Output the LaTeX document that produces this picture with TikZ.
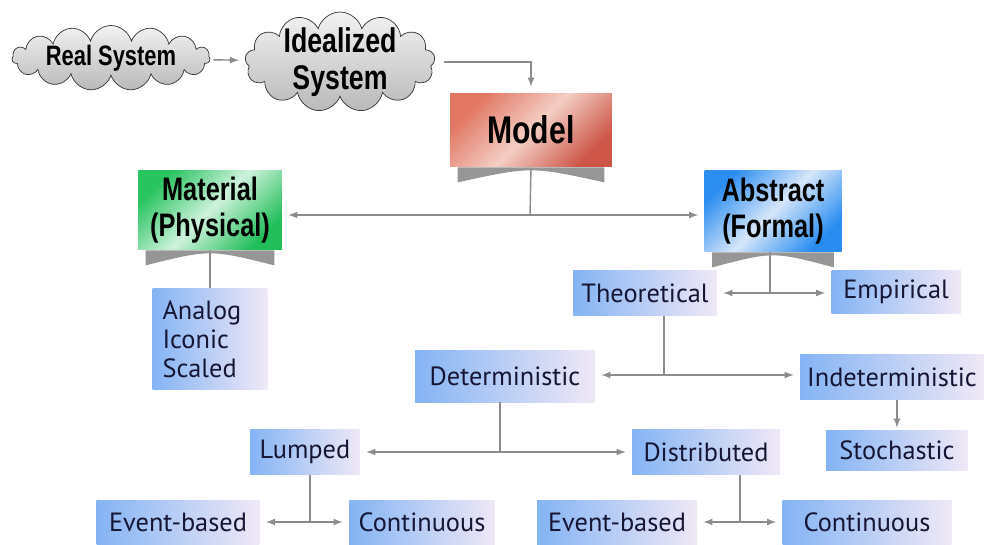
\documentclass[tikz,border=0pt]{standalone}
\usepackage{fontspec}
\setmainfont{PT Sans}
\newfontfamily\headfont{Liberation Sans}[FakeStretch=0.78]
\usetikzlibrary{shapes.symbols,arrows,positioning}

\definecolor{boxblue}{RGB}{132,180,244}
\definecolor{boxpale}{RGB}{240,232,246}
\definecolor{boxtext}{RGB}{22,22,52}
\definecolor{linegray}{RGB}{140,140,140}
\definecolor{shelfgray}{RGB}{150,150,150}

\tikzset{
  cloudy/.style={cloud, cloud puffs=15, aspect=2.6, draw=black!80, thin,
    top color=gray!10, bottom color=gray!55, font=\headfont\bfseries\fontsize{16}{17}\selectfont,
    align=center},
  head/.style={rectangle, align=center, inner sep=0pt,
    font=\headfont\bfseries\fontsize{18.5}{20.5}\selectfont},
  leaf/.style={rectangle, left color=boxblue, right color=boxpale, text=boxtext,
    inner sep=0pt, font=\fontsize{15}{16}\selectfont},
  line/.style={draw=linegray, thick},
  arr/.style={line, ->, shorten >=0.12cm}
}

\newcommand{\shelf}[1]{%
  \fill[shelfgray] ([xshift=0.16cm]#1.south west) -- ([xshift=-0.16cm]#1.south east)
    -- ([xshift=-0.16cm,yshift=-0.3cm]#1.south east)
    .. controls ([yshift=0.02cm]#1.south) .. ([xshift=0.16cm,yshift=-0.3cm]#1.south west) -- cycle;}

\begin{document}
\begin{tikzpicture}[x=0.02cm, y=-0.02cm, >=latex]
  \useasboundingbox (0,0) rectangle (986,544);

  \node[cloudy, minimum width=3.96cm, minimum height=1.3cm, inner xsep=-0.5cm, inner ysep=-0.3cm] (real) at (111,58) {Real System};
  \node[cloudy, minimum width=3.8cm, minimum height=2cm, cloud puffs=13, aspect=1.9,
    inner xsep=-0.6cm, inner ysep=-0.55cm,
    font=\headfont\bfseries\fontsize{19.5}{21}\selectfont] (ideal) at (340,62) {Idealized\\System};

  \node[head, minimum width=3.24cm, minimum height=1.48cm,
    top color={rgb,255:red,226;green,118;blue,98}, bottom color={rgb,255:red,206;green,86;blue,72},
    middle color={rgb,255:red,244;green,206;blue,196}, shading angle=45,
    font=\headfont\bfseries\fontsize{22}{24}\selectfont] (model) at (531,130) {Model};
  \node[head, minimum width=2.88cm, minimum height=1.6cm,
    top color={rgb,255:red,40;green,196;blue,96}, bottom color={rgb,255:red,34;green,190;blue,90},
    middle color={rgb,255:red,206;green,242;blue,220}, shading angle=45] (mat) at (210,210) {Material\\(Physical)};
  \node[head, minimum width=2.74cm, minimum height=1.64cm,
    top color={rgb,255:red,44;green,142;blue,240}, bottom color={rgb,255:red,40;green,140;blue,240},
    middle color={rgb,255:red,214;green,230;blue,250}, shading angle=45] (abs) at (773,211) {Abstract\\(Formal)};

  \node[leaf, text width=1.9cm, inner xsep=0.2cm, minimum height=2.04cm, align=left,
    font=\fontsize{15}{16.5}\selectfont] (analog) at (210,339) {Analog\\Iconic\\Scaled};
  \node[leaf, minimum width=2.88cm, minimum height=0.9cm] (theo) at (645,293) {Theoretical};
  \node[leaf, minimum width=2.58cm, minimum height=0.88cm] (emp) at (896,292) {Empirical};
  \node[leaf, minimum width=3.6cm, minimum height=1.04cm] (det) at (505,376) {Deterministic};
  \node[leaf, minimum width=3.68cm, minimum height=0.9cm] (indet) at (892,377) {Indeterministic};
  \node[leaf, minimum width=2.84cm, minimum height=0.8cm] (stoch) at (897,450) {Stochastic};
  \node[leaf, minimum width=2.2cm, minimum height=0.9cm] (lump) at (305,452) {Lumped};
  \node[leaf, minimum width=2.96cm, minimum height=0.9cm] (dist) at (706,452) {Distributed};
  \node[leaf, minimum width=3.26cm, minimum height=0.88cm] (ev1) at (178,522) {Event-based};
  \node[leaf, minimum width=2.92cm, minimum height=0.88cm] (cont1) at (422,522) {Continuous};
  \node[leaf, minimum width=3.2cm, minimum height=0.88cm] (ev2) at (617,522) {Event-based};
  \node[leaf, minimum width=3.38cm, minimum height=0.88cm] (cont2) at (867,522) {Continuous};

  \coordinate (mb) at (530,215);
  \coordinate (ab) at (770,293);
  \coordinate (tb) at (664,375);
  \coordinate (db) at (500,452);
  \coordinate (lb) at (310,522);
  \coordinate (eb) at (740,522);

  \draw[arr, shorten <=0.06cm] (real) -- (ideal);
  \draw[arr, shorten <=0.2cm] (ideal) -| (model);

  \draw[line] (model.south) -- (mb);
  \draw[arr] (mb) -- (mb -| mat.east);
  \draw[arr] (mb) -- (mb -| abs.west);
  \draw[line] (mat.south) -- (analog.north);
  \draw[line] (ab |- abs.south) -- (ab);
  \draw[arr] (ab) -- (ab -| theo.east);
  \draw[arr] (ab) -- (ab -| emp.west);
  \draw[line] (tb |- theo.south) -- (tb);
  \draw[arr] (tb) -- (tb -| det.east);
  \draw[arr] (tb) -- (tb -| indet.west);
  \draw[arr, shorten >=0.04cm] (indet.south -| stoch.north) -- (stoch.north);
  \draw[line] (db |- det.south) -- (db);
  \draw[arr] (db) -- (db -| lump.east);
  \draw[arr] (db) -- (db -| dist.west);
  \draw[line] (lb |- lump.south) -- (lb);
  \draw[arr] (lb) -- (lb -| ev1.east);
  \draw[arr] (lb) -- (lb -| cont1.west);
  \draw[line] (eb |- dist.south) -- (eb);
  \draw[arr] (eb) -- (eb -| ev2.east);
  \draw[arr] (eb) -- (eb -| cont2.west);

  \shelf{model}
  \shelf{mat}
  \shelf{abs}
\end{tikzpicture}
\end{document}
